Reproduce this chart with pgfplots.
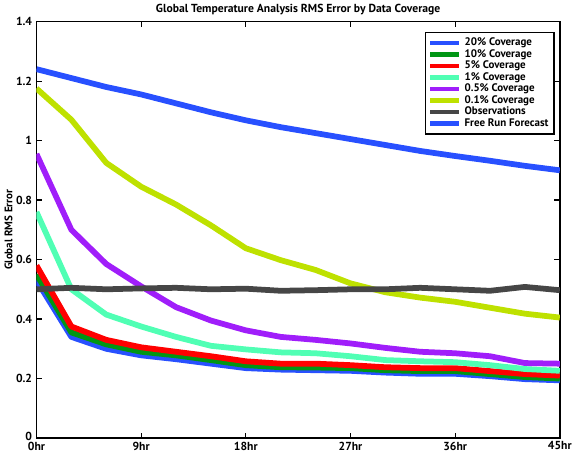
\documentclass[border=0pt]{standalone}
\usepackage{pgfplots}
\pgfplotsset{compat=1.18}
\usepackage{fontspec}
\setmainfont{PT Sans}
\definecolor{cblue}{RGB}{40,80,255}
\definecolor{cgreen}{RGB}{0,150,20}
\definecolor{cred}{RGB}{255,0,0}
\definecolor{caqua}{RGB}{80,255,180}
\definecolor{cpurple}{RGB}{160,30,250}
\definecolor{colive}{RGB}{190,225,0}
\definecolor{cgray}{RGB}{70,70,70}
\begin{document}
\begin{tikzpicture}
\begin{axis}[
  scale only axis,
  width=382pt, height=304pt,
  xmin=0, xmax=45, ymin=0, ymax=1.4,
  xtick={0,9,18,27,36,45},
  xticklabels={0hr,9hr,18hr,27hr,36hr,45hr},
  ytick={0,0.2,0.4,0.6,0.8,1,1.2,1.4},
  yticklabels={\raisebox{3pt}{0},0.2,0.4,0.6,0.8,1,1.2,1.4},
  tick align=inside,
  major tick length=4pt,
  axis line style={line width=1.2pt},
  every tick/.style={black, line width=0.8pt},
  tick label style={font=\bfseries\fontsize{8.5}{10}\selectfont, inner sep=1pt},
  xticklabel shift=1.5pt,
  yticklabel shift=2pt,
  title={\bfseries Global Temperature Analysis RMS Error by Data Coverage},
  title style={font=\bfseries\fontsize{8.5}{10}\selectfont, yshift=-5pt},
  ylabel={\bfseries Global RMS Error},
  ylabel style={font=\bfseries\fontsize{8}{10}\selectfont, yshift=-2pt},
  legend style={at={(rel axis cs:0.99,0.975)}, anchor=north east,
    font=\bfseries\fontsize{8}{9}\selectfont, draw=black, line width=0.8pt,
    row sep=-2.8pt, inner sep=2pt},
  legend cell align=left,
  legend image code/.code={\draw[#1, line width=3.5pt] (0cm,0cm) -- (0.75cm,0cm);},
  every axis plot/.append style={line width=4.2pt, line join=round},
]
\addplot[cblue] coordinates {(0,0.53)(3,0.34)(6,0.30)(9,0.278)(12,0.265)(15,0.25)(18,0.235)(21,0.23)(24,0.228)(27,0.226)(30,0.22)(33,0.216)(36,0.216)(39,0.208)(42,0.198)(45,0.194)};
\addlegendentry{20\% Coverage}
\addplot[cgreen] coordinates {(0,0.55)(3,0.355)(6,0.315)(9,0.29)(12,0.278)(15,0.262)(18,0.245)(21,0.238)(24,0.237)(27,0.235)(30,0.228)(33,0.225)(36,0.225)(39,0.215)(42,0.205)(45,0.20)};
\addlegendentry{10\% Coverage}
\addplot[cred] coordinates {(0,0.58)(3,0.375)(6,0.33)(9,0.305)(12,0.29)(15,0.275)(18,0.258)(21,0.25)(24,0.25)(27,0.245)(30,0.238)(33,0.235)(36,0.235)(39,0.225)(42,0.215)(45,0.21)};
\addlegendentry{5\% Coverage}
\addplot[caqua] coordinates {(0,0.76)(3,0.50)(6,0.415)(9,0.375)(12,0.34)(15,0.31)(18,0.298)(21,0.288)(24,0.285)(27,0.275)(30,0.262)(33,0.258)(36,0.255)(39,0.245)(42,0.232)(45,0.226)};
\addlegendentry{1\% Coverage}
\addplot[cpurple] coordinates {(0,0.955)(3,0.70)(6,0.585)(9,0.51)(12,0.44)(15,0.395)(18,0.362)(21,0.34)(24,0.33)(27,0.318)(30,0.303)(33,0.29)(36,0.285)(39,0.275)(42,0.252)(45,0.25)};
\addlegendentry{0.5\% Coverage}
\addplot[colive] coordinates {(0,1.175)(3,1.07)(6,0.925)(9,0.845)(12,0.785)(15,0.715)(18,0.638)(21,0.598)(24,0.565)(27,0.52)(30,0.49)(33,0.472)(36,0.458)(39,0.438)(42,0.418)(45,0.405)};
\addlegendentry{0.1\% Coverage}
\addplot[cgray] coordinates {(0,0.50)(3,0.505)(6,0.50)(9,0.503)(12,0.505)(15,0.50)(18,0.502)(21,0.495)(24,0.497)(27,0.50)(30,0.50)(33,0.505)(36,0.50)(39,0.495)(42,0.508)(45,0.497)};
\addlegendentry{Observations}
\addplot[cblue] coordinates {(0,1.24)(3,1.21)(6,1.18)(9,1.155)(12,1.125)(15,1.095)(18,1.068)(21,1.045)(24,1.025)(27,1.005)(30,0.985)(33,0.965)(36,0.948)(39,0.932)(42,0.915)(45,0.90)};
\addlegendentry{Free Run Forecast}
\end{axis}
\end{tikzpicture}
\end{document}
